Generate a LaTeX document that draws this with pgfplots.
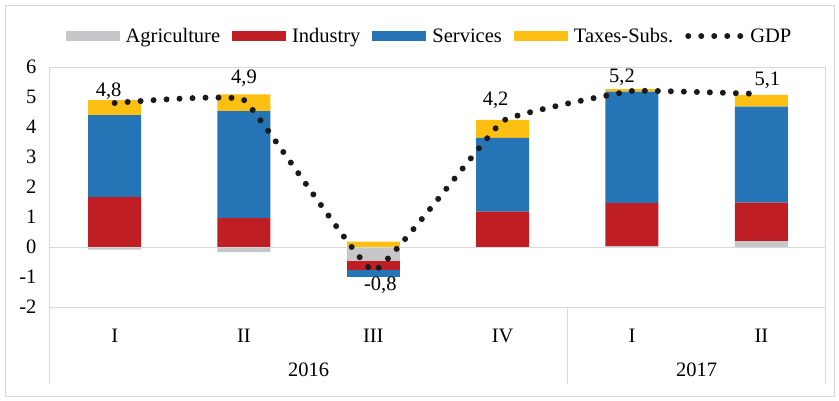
\documentclass[border=0pt]{standalone}
\usepackage{fontspec}
\setmainfont{Liberation Serif}
\usepackage{pgfplots}
\usepackage{pgfplotstable}
\pgfplotsset{compat=1.18}

\definecolor{agri}{RGB}{199,199,201}
\definecolor{indu}{RGB}{190,30,36}
\definecolor{serv}{RGB}{37,117,182}
\definecolor{taxs}{RGB}{253,191,17}
\definecolor{frame}{RGB}{217,217,217}
\definecolor{gdpc}{RGB}{26,26,26}
\newcommand\chf{\fontsize{20.5}{24}\selectfont}

% contributions; negative parts stack downward from zero on their own
\pgfplotstableread{
x agrineg indneg servneg agri ind serv tax
0 -0.09  0     0     0    1.66 2.74 0.50
1 -0.17  0     0     0    0.96 3.57 0.56
2 -0.46 -0.31 -0.22  0    0    0    0.18
3  0     0     0     0    1.18 2.46 0.60
4  0     0     0     0.03 1.43 3.72 0.08
5  0     0     0     0.20 1.28 3.20 0.39
}\contrib

\pgfplotstableread{
x gdp lab dx dy
0 4.8 {4,8} -6 12
1 4.9 {4,9} 0 22
2 -0.8 {-0,8} 7 -14
3 4.2 {4,2} -7 21
4 5.2 {5,2} -10 14
5 5.1 {5,1} 6 14
}\gdp

\pgfplotsset{
  barleg/.style={legend image code/.code={\fill[##1] (0pt,-5pt) rectangle (54pt,5pt);}},
}

\begin{document}
\begin{tikzpicture}
\begin{axis}[name=main, width=776pt, height=240pt, scale only axis,
  ybar stacked, bar width=53pt,
  xmin=-0.5, xmax=5.5, ymin=-2, ymax=6, enlargelimits=false,
  ytick={-2,...,6}, xtick={0,...,5}, xticklabels={I,II,III,IV,I,II},
  major tick length=0pt,
  axis line style={frame, line width=1pt},
  tick label style={font=\chf, /pgf/number format/assume math mode=true},
  yticklabel style={xshift=-10pt},
  xticklabel style={yshift=-19pt},
  clip=false,
  legend columns=-1,
  legend style={at={(0.489,1.129)}, anchor=center, draw=none, fill=none, font=\chf,
    /tikz/every odd column/.append style={column sep=4pt},
    /tikz/every even column/.append style={column sep=10pt}},
]
\draw[frame, line width=1pt] (axis cs:-0.5,0) -- (axis cs:5.5,0);
\addplot[fill=agri, draw=none, forget plot] table[x=x,y=agrineg]{\contrib};
\addplot[fill=indu, draw=none, forget plot] table[x=x,y=indneg]{\contrib};
\addplot[fill=serv, draw=none, forget plot] table[x=x,y=servneg]{\contrib};
\addplot[fill=agri, draw=none, barleg] table[x=x,y=agri]{\contrib};
\addlegendentry{Agriculture}
\addplot[fill=indu, draw=none, barleg] table[x=x,y=ind]{\contrib};
\addlegendentry{Industry}
\addplot[fill=serv, draw=none, barleg] table[x=x,y=serv]{\contrib};
\addlegendentry{Services}
\addplot[fill=taxs, draw=none, barleg] table[x=x,y=tax]{\contrib};
\addlegendentry{Taxes-Subs.}
\addlegendimage{legend image code/.code={\draw[gdpc, line width=6pt, line cap=round, dash pattern=on 0pt off 13pt] (0pt,0pt) -- (53pt,0pt);}}
\addlegendentry{GDP}
\draw[frame, line width=1pt] (axis cs:-0.5,-2) -- ++(0pt,-77pt);
\draw[frame, line width=1pt] (axis cs:3.5,-2) -- ++(0pt,-77pt);
\draw[frame, line width=1pt] (axis cs:5.5,-2) -- ++(0pt,-77pt);
\node[font=\chf] at (axis cs:1.5,-2) [yshift=-63pt] {2016};
\node[font=\chf] at (axis cs:4.5,-2) [yshift=-63pt] {2017};
\end{axis}

\begin{axis}[width=776pt, height=240pt, scale only axis, hide axis,
  xmin=-0.5, xmax=5.5, ymin=-2, ymax=6, enlargelimits=false, clip=false]
\addplot[gdpc, line width=6pt, line cap=round, dash pattern=on 0pt off 13pt,
  smooth, tension=0.15, no markers,
  nodes near coords, point meta=explicit symbolic,
  visualization depends on={\thisrow{dx} \as \dx},
  visualization depends on={\thisrow{dy} \as \dy},
  nodes near coords style={font=\chf, text=black, anchor=center, xshift=\dx pt, yshift=\dy pt}]
  table[x=x, y=gdp, meta=lab]{\gdp};
\end{axis}

\draw[frame] ([shift={(-45pt,-89pt)}]main.south west) rectangle ([shift={(784pt,302pt)}]main.south west);
\path ([shift={(-50pt,-93pt)}]main.south west) rectangle ([shift={(789pt,307pt)}]main.south west);
\end{tikzpicture}
\end{document}
